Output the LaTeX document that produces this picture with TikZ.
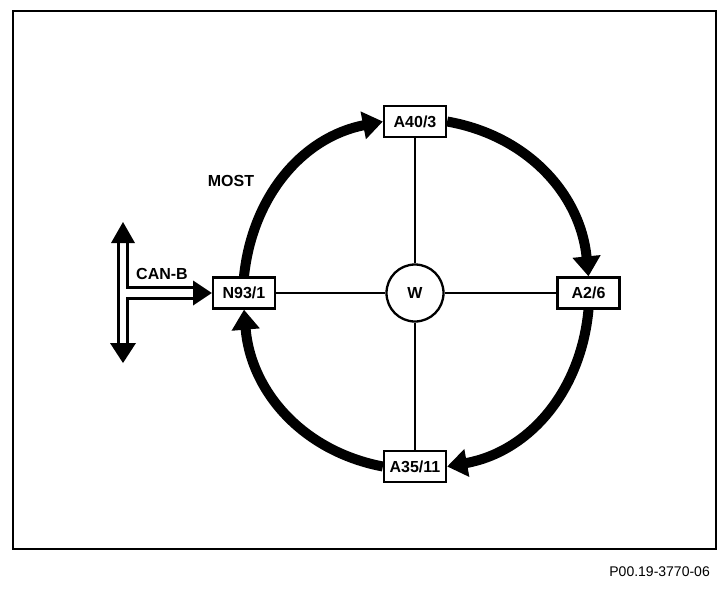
\documentclass[tikz,border=0pt]{standalone}
\usepackage{fontspec}
\setmainfont{Liberation Sans}
\usetikzlibrary{arrows.meta}
\begin{document}
\begin{tikzpicture}[x=1pt,y=-1pt,
  box/.style={draw, line width=2.3pt, fill=white, minimum width=62pt, minimum height=31pt, inner sep=0pt, font=\bfseries\fontsize{16}{16}\selectfont},
  hub/.style={draw, circle, line width=2.3pt, fill=white, minimum size=57pt, inner sep=0pt, font=\bfseries\fontsize{16}{16}\selectfont},
  spoke/.style={line width=2.3pt},
  ring/.style={line width=10pt, -{Triangle[width=27pt,length=20pt]}},
  bus/.style={line width=3pt, miter limit=10},
  lbl/.style={inner sep=0pt, font=\bfseries\fontsize{16}{16}\selectfont}]
\useasboundingbox (0,0) rectangle (728,589);
\draw[line width=1.3pt] (13,11) rectangle (716,549);
% nodes
\node[hub] (w) at (415,293) {W};
\node[box] (a40) at (415,121.5) {A40/3};
\node[box] (a26) at (588.5,293) {A2/6};
\node[box] (a35) at (415,466.5) {A35/11};
\node[box] (n93) at (244,293) {N93/1};
% ring arcs
\draw[ring] (n93.north) to[out=84,in=191] (a40.west);
\draw[ring] (a40.east) to[out=-10,in=95.6] (a26.north);
\draw[ring] (a26.south) to[out=-95.3,in=10.2] (a35.east);
\draw[ring] (a35.west) to[out=169.2,in=-85.2] (n93.south);
% redraw boxes on top
\node[box] at (a40) {A40/3};
\node[box] at (a26) {A2/6};
\node[box] at (a35) {A35/11};
\node[box] at (n93) {N93/1};
% spokes
\draw[spoke] (w.north) -- (a40.south);
\draw[spoke] (w.east) -- (a26.west);
\draw[spoke] (w.south) -- (a35.north);
\draw[spoke] (w.west) -- (n93.east);
% CAN-B bus symbol
\draw[bus] (118.5,243) -- (118.5,343);
\draw[bus] (127.5,243) -- (127.5,287.5) -- (193,287.5);
\draw[bus] (193,298.5) -- (127.5,298.5) -- (127.5,343);
\fill (111,243) -- (123,222) -- (135,243) -- cycle;
\fill (110,343) -- (123,363) -- (136,343) -- cycle;
\fill (193,280.5) -- (n93.west) -- (193,305.5) -- cycle;
% labels
\node[lbl] (most) at (231,181) {MOST};
\node[lbl] (canb) at (162,274) {CAN-B};
\node[inner sep=0pt, anchor=east, font=\fontsize{14}{14}\selectfont] (cap) at (710,572) {P00.19-3770-06};
\end{tikzpicture}
\end{document}
